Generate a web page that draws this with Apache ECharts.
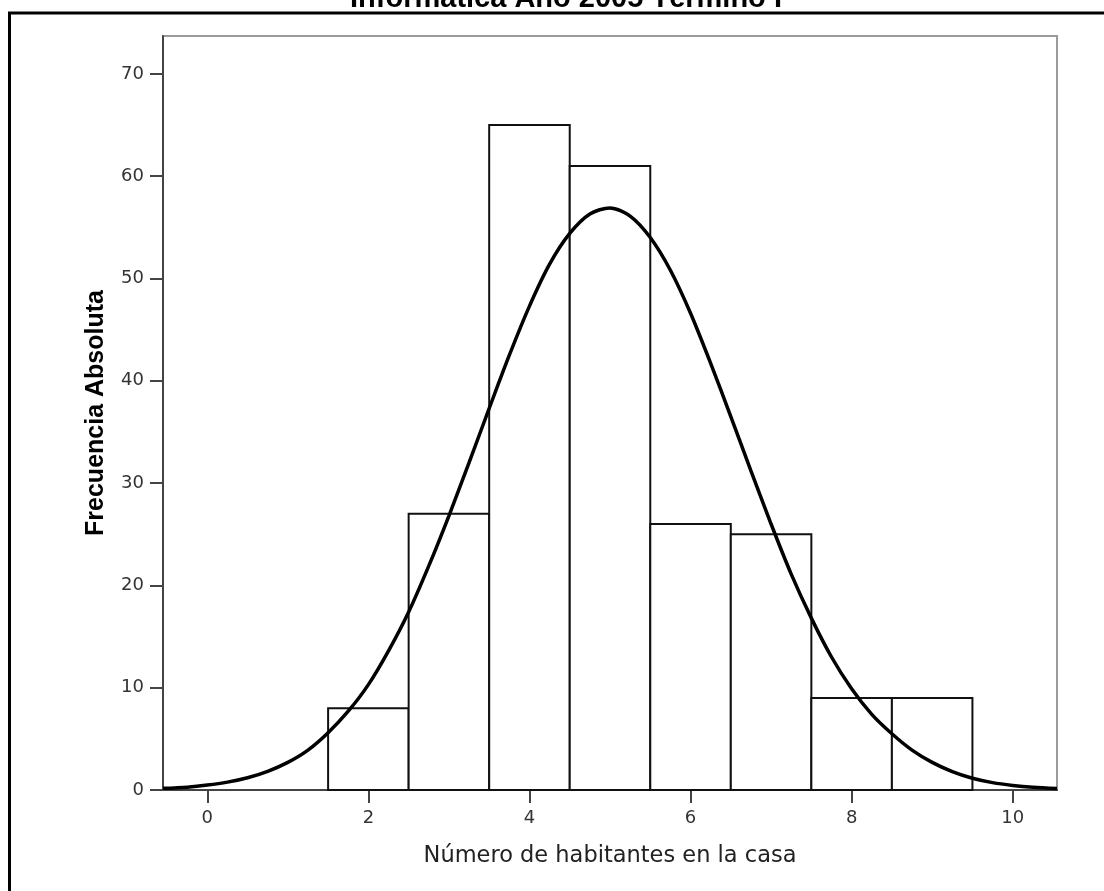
<!DOCTYPE html>
<html>
<head>
<meta charset="utf-8">
<script src="https://cdn.jsdelivr.net/npm/echarts@6/dist/echarts.min.js"></script>
<style>
html,body{margin:0;padding:0;background:#fff;}
#chart{width:1104px;height:891px;}
</style>
</head>
<body>
<div id="chart"></div>
<script>
// ---- data ----
var titleText = 'Informática Año 2005 Término I';
var xTitle = 'Número de habitantes en la casa';
var yTitle = 'Frecuencia Absoluta';
var binStart = [1.5, 2.5, 3.5, 4.5, 5.5, 6.5, 7.5, 8.5];
var binEnd   = [2.5, 3.5, 4.5, 5.5, 6.5, 7.5, 8.5, 9.5];
var counts   = [8, 27, 65, 61, 26, 25, 9, 9];
var curveX = [-0.55, -0.25, 0, 0.25, 0.5, 0.75, 1, 1.25, 1.5, 1.75, 2, 2.25, 2.5, 2.75, 3, 3.25, 3.5, 3.75, 4, 4.25, 4.5, 4.75, 5,
              5.25, 5.5, 5.75, 6, 6.25, 6.5, 6.75, 7, 7.25, 7.5, 7.75, 8, 8.25, 8.5, 8.75, 9, 9.25, 9.5, 9.75, 10, 10.25, 10.55];
var curveY = [0.16, 0.28, 0.48, 0.77, 1.2, 1.83, 2.7, 3.9, 5.6, 7.7, 10.3, 13.6, 17.4, 21.9, 26.8, 32.0, 37.3, 42.5, 47.3, 51.4, 54.4, 56.3, 56.9,
              56.1, 54.0, 50.8, 46.6, 41.7, 36.5, 31.2, 26.0, 21.1, 16.8, 13.0, 9.9, 7.4, 5.5, 3.9, 2.7, 1.8, 1.15, 0.72, 0.45, 0.27, 0.15];
var xTicks = [0, 2, 4, 6, 8, 10];
var yTicks = [0, 10, 20, 30, 40, 50, 60, 70];
var xMin = -0.55, xMax = 10.55, yMin = 0, yMax = 73.7;

var bars = binStart.map(function (s, i) { return [s, binEnd[i], counts[i]]; });
var curve = curveX.map(function (x, i) { return [x, curveY[i]]; });

var chart = echarts.init(document.getElementById('chart'), null, {renderer: 'canvas'});
var tickFont = {fontFamily: 'DejaVu Sans', fontSize: 18, color: '#333'};
chart.setOption({
  animation: false,
  backgroundColor: '#fff',
  grid: {left: 163, right: 47, top: 36, bottom: 101, show: true, borderColor: '#9a9a9a', borderWidth: 2, backgroundColor: 'transparent'},
  xAxis: {
    type: 'value', min: xMin, max: xMax,
    name: xTitle, nameLocation: 'middle', nameGap: 55, nameMoveOverlap: false,
    nameTextStyle: {fontFamily: 'DejaVu Sans', fontSize: 22.5, color: '#222'},
    splitLine: {show: false},
    axisLine: {show: true, onZero: false, lineStyle: {color: '#444', width: 2}},
    axisTick: {show: true, length: 13, lineStyle: {color: '#444', width: 2}, customValues: xTicks},
    axisLabel: Object.assign({margin: 19, customValues: xTicks}, tickFont)
  },
  yAxis: {
    type: 'value', min: yMin, max: yMax,
    name: yTitle, nameLocation: 'middle', nameGap: 54, nameRotate: 90, nameMoveOverlap: false,
    nameTextStyle: {fontFamily: 'Liberation Sans', fontWeight: 'bold', fontSize: 25, color: '#000'},
    splitLine: {show: false},
    axisLine: {show: true, onZero: false, lineStyle: {color: '#444', width: 2}},
    axisTick: {show: true, length: 13, lineStyle: {color: '#444', width: 2}, customValues: yTicks},
    axisLabel: Object.assign({margin: 19, customValues: yTicks}, tickFont)
  },
  graphic: [
    {type: 'rect', shape: {x: 9.5, y: 13, width: 2000, height: 2000}, style: {fill: 'none', stroke: '#000', lineWidth: 3}, z: 100},
    {type: 'text', x: 566, y: -1, style: {text: titleText, font: 'bold 29px "Liberation Sans"', fill: '#000', align: 'center', verticalAlign: 'middle'}, z: 101}
  ],
  series: [
    {
      type: 'custom',
      data: bars,
      renderItem: function (params, api) {
        var p0 = api.coord([api.value(0), api.value(2)]);
        var p1 = api.coord([api.value(1), 0]);
        return {
          type: 'rect',
          shape: {x: p0[0], y: p0[1], width: p1[0] - p0[0], height: p1[1] - p0[1]},
          style: {fill: '#fff', stroke: '#111', lineWidth: 2}
        };
      },
      encode: {x: [0, 1], y: 2},
      z: 2
    },
    {
      type: 'line',
      data: curve,
      smooth: 0.3,
      symbol: 'none',
      lineStyle: {color: '#000', width: 3.5},
      z: 3
    }
  ]
});
</script>
</body>
</html>
